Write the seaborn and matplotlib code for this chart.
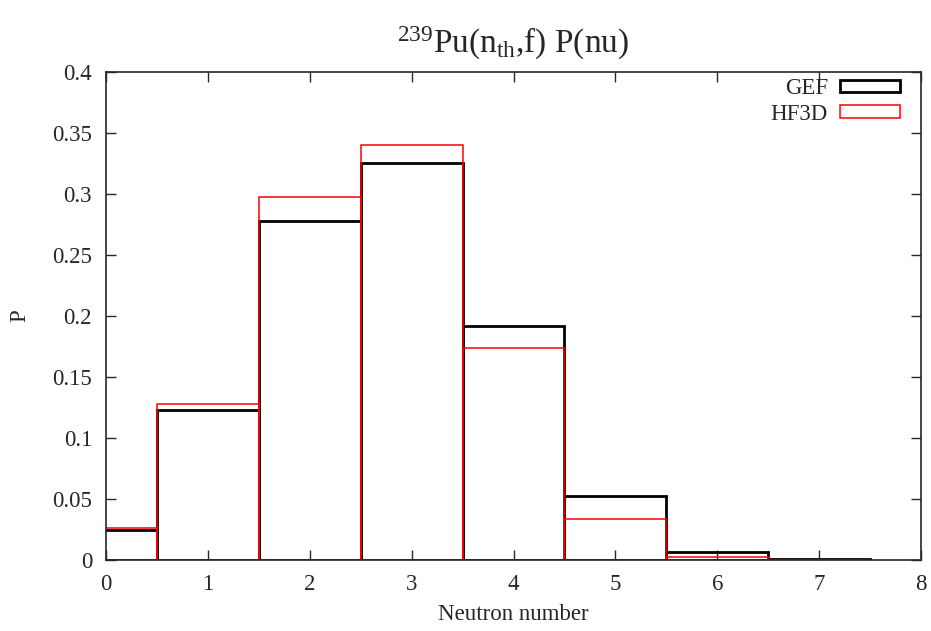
import matplotlib
matplotlib.use("Agg")
import numpy as np
import pandas as pd
import matplotlib.pyplot as plt
import seaborn as sns
from matplotlib.patches import Patch

# neutron multiplicity distributions
nu = [0, 1, 2, 3, 4, 5, 6, 7]
p_gef = [0.0249, 0.1230, 0.2780, 0.3255, 0.1915, 0.0525, 0.0066, 0.0006]
p_hf3d = [0.0265, 0.1276, 0.2975, 0.3402, 0.1738, 0.0340, 0.0026, 0.0003]
yticklabels = ["0", "0.05", "0.1", "0.15", "0.2", "0.25", "0.3", "0.35", "0.4"]

df = pd.DataFrame({"nu": nu, "GEF": p_gef, "HF3D": p_hf3d})

sns.set_style("ticks")
plt.rcParams["font.family"] = ["Liberation Serif", "DejaVu Serif"]
plt.rcParams["mathtext.fontset"] = "custom"
plt.rcParams["mathtext.rm"] = "Liberation Serif"
plt.rcParams["mathtext.it"] = "Liberation Serif:italic"

fig = plt.figure(figsize=(9.31, 6.31), dpi=100)
ax = fig.add_axes([106 / 931, 1 - 560 / 631, (921 - 106) / 931, (560 - 72) / 631])

sns.histplot(data=df, x="nu", weights="GEF", discrete=True, fill=False,
             color="black", linewidth=2.0, ax=ax)
sns.histplot(data=df, x="nu", weights="HF3D", discrete=True, fill=False,
             color="red", linewidth=1.1, ax=ax)

ax.set_xlim(0, 8)
ax.set_ylim(0, 0.4)
ax.set_xticks(np.arange(0, 9, 1))
ax.set_yticks(np.arange(0, 0.41, 0.05))
ax.set_yticklabels(yticklabels)
ax.tick_params(direction="in", top=True, right=True, labelsize=16.5, length=7, width=1)
ax.tick_params(axis="x", pad=10)
ax.tick_params(axis="y", pad=10)
for s in ax.spines.values():
    s.set_linewidth(1.2)
    s.set_visible(True)

ax.set_xlabel("Neutron number", fontsize=16.5, va="center")
ax.xaxis.set_label_coords(0.5, (560 - 614) / 488)
ax.set_ylabel("P", fontsize=16.5, va="center")
ax.yaxis.set_label_coords((20 - 106) / 815, 0.5)
ax.set_title(r"$^{239}$Pu(n$_{\mathrm{th}}$,f) P(nu)", fontsize=24, pad=14)

handles = [Patch(facecolor="none", edgecolor="black", linewidth=2.0, label="GEF"),
           Patch(facecolor="none", edgecolor="red", linewidth=1.1, label="HF3D")]
ax.legend(handles=handles, loc="upper right", frameon=False, markerfirst=False,
          fontsize=16.5, handlelength=2.6, handleheight=0.45, labelspacing=0.2,
          borderpad=0, borderaxespad=0, handletextpad=0.55,
          bbox_to_anchor=(900 / 931, 1 - 78 / 631), bbox_transform=fig.transFigure)

fig.savefig("out.png", dpi=100)
